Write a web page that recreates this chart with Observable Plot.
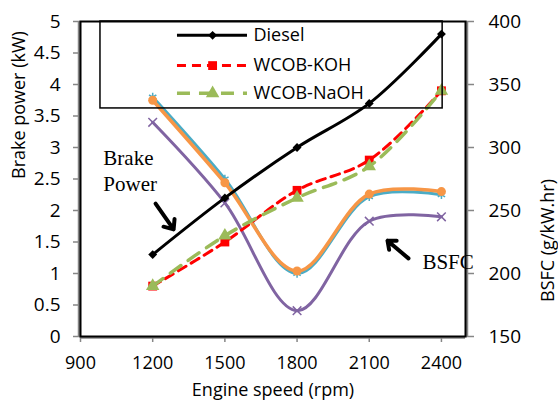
<!DOCTYPE html>
<html>
<head>
<meta charset="utf-8">
<script src="https://cdn.jsdelivr.net/npm/d3@7"></script>
<script src="https://cdn.jsdelivr.net/npm/@observablehq/plot@0.6"></script>
<style>
  html, body { margin: 0; padding: 0; background: #fff; }
  #chart { width: 558px; height: 407px; }
</style>
</head>
<body>
<div id="chart"></div>
<script>
// ---- data ----
const speeds = [1200, 1500, 1800, 2100, 2400];
// Brake power (kW), left axis
const bpDiesel = [1.3, 2.2, 3.0, 3.7, 4.8];
const bpKOH = [0.8, 1.5, 2.32, 2.8, 3.9];
const bpNaOH = [0.8, 1.6, 2.2, 2.7, 3.9];
// BSFC (g/kW.hr), right axis
const bsfcTeal = [340, 275, 200, 261, 262.5];
const bsfcOrange = [337.5, 272, 202, 263, 265];
const bsfcPurple = [320, 256, 170.5, 241.5, 245];

const xTicks = [900, 1200, 1500, 1800, 2100, 2400];
const leftTicks = [0, 0.5, 1, 1.5, 2, 2.5, 3, 3.5, 4, 4.5, 5];
const rightTicks = [150, 200, 250, 300, 350, 400];
const seriesNames = ["Diesel", "WCOB-KOH", "WCOB-NaOH"];

// ---- helpers ----
const bsfcToLeft = v => (v - 150) / 50;
const rows = vals => speeds.map((s, i) => ({x: s, y: vals[i]}));
const rowsB = vals => speeds.map((s, i) => ({x: s, y: bsfcToLeft(vals[i])}));

const cBlack = "#000000", cRed = "#FF0000", cGreen = "#9BBB59",
      cTeal = "#4BACC6", cOrange = "#F79646", cPurple = "#8064A2", cAxis = "#868686";
const sans = "Open Sans", serif = "Liberation Serif";

// legend layout (data coordinates of the chart area)
const legendBox = {x1: 983, x2: 2405, y1: 3.62, y2: 5};
const legendRowY = [4.78, 4.30, 3.86];
const legendLine = {x1: 1303, x2: 1594, xm: 1449, xt: 1619};
const legendStyles = [
  {stroke: cBlack, dash: null, symbol: "diamond2", r: 4, width: 3},
  {stroke: cRed, dash: "9,6", symbol: "square", r: 5, width: 3},
  {stroke: cGreen, dash: "13,9", symbol: "triangle", r: 5, width: 3.5}
];
const legendRows = seriesNames.map((n, i) => ({name: n, y: legendRowY[i], ...legendStyles[i]}));

const annotations = [
  {text: "Brake\nPower", x: 995, y: 3.0},
  {text: "BSFC", x: 2321, y: 1.35}
];
const arrows = [
  {x1: 1212, y1: 2.11, x2: 1287, y2: 1.70},
  {x1: 2263, y1: 1.24, x2: 2176, y2: 1.52}
];

const chart = Plot.plot({
  width: 558,
  height: 407,
  marginLeft: 80,
  marginRight: 93,
  marginTop: 21,
  marginBottom: 71,
  style: {fontFamily: sans, fontSize: "18px", background: "#fff", color: "#000"},
  x: {domain: [900, 2500], axis: null},
  y: {domain: [0, 5], axis: null},
  marks: [
    // axes
    Plot.axisX(xTicks, {anchor: "bottom", tickSize: 6, tickPadding: 14, stroke: cAxis, fill: "black", label: null, tickFormat: d => String(d), strokeWidth: 1.5}),
    Plot.axisY(leftTicks, {anchor: "left", tickSize: 7, tickPadding: 13, stroke: cAxis, fill: "black", label: null, tickFormat: d => String(d), strokeWidth: 1.5, fontSize: 19}),
    Plot.axisY(rightTicks.map(bsfcToLeft), {anchor: "right", tickSize: 8, tickPadding: 15, stroke: cAxis, fill: "black", label: null, tickFormat: d => String(150 + d * 50), strokeWidth: 1.5, fontSize: 19}),
    Plot.ruleX([900], {stroke: cAxis, strokeWidth: 2.5, dx: -1.5}),
    Plot.ruleX([2500], {stroke: cAxis, strokeWidth: 2.5, dx: 1.5}),
    Plot.ruleY([0], {stroke: cAxis, strokeWidth: 2.5, dy: 1}),
    Plot.frame({stroke: "black", strokeWidth: 2}),

    // axis titles
    Plot.text(["Engine speed (rpm)"], {frameAnchor: "bottom", dy: 59, text: d => d, fontSize: 18}),
    Plot.text(["Brake power (kW)"], {frameAnchor: "left", dx: -61, rotate: -90, text: d => d, fontSize: 18}),
    Plot.text(["BSFC (g/kW.hr)"], {frameAnchor: "right", dx: 83, rotate: -90, text: d => d, fontSize: 18}),

    // BSFC curves
    Plot.line(rowsB(bsfcTeal), {x: "x", y: "y", curve: "catmull-rom", stroke: cTeal, strokeWidth: 3}),
    Plot.dot(rowsB(bsfcTeal), {x: "x", y: "y", symbol: "asterisk", r: 4, stroke: cTeal, strokeWidth: 1.5}),
    Plot.line(rowsB(bsfcOrange), {x: "x", y: "y", curve: "catmull-rom", stroke: cOrange, strokeWidth: 3.5}),
    Plot.dot(rowsB(bsfcOrange), {x: "x", y: "y", symbol: "circle", r: 4.5, fill: cOrange}),
    Plot.line(rowsB(bsfcPurple), {x: "x", y: "y", curve: "catmull-rom", stroke: cPurple, strokeWidth: 3}),
    Plot.dot(rowsB(bsfcPurple), {x: "x", y: "y", symbol: "times", r: 4, stroke: cPurple, strokeWidth: 1.5}),

    // Brake power curves
    Plot.line(rows(bpDiesel), {x: "x", y: "y", curve: "catmull-rom", stroke: cBlack, strokeWidth: 3}),
    Plot.dot(rows(bpDiesel), {x: "x", y: "y", symbol: "diamond2", r: 4, fill: cBlack}),
    Plot.line(rows(bpKOH), {x: "x", y: "y", curve: "catmull-rom", stroke: cRed, strokeWidth: 3, strokeDasharray: "9,6"}),
    Plot.dot(rows(bpKOH), {x: "x", y: "y", symbol: "square", r: 5, fill: cRed}),
    Plot.line(rows(bpNaOH), {x: "x", y: "y", curve: "catmull-rom", stroke: cGreen, strokeWidth: 3.5, strokeDasharray: "13,9"}),
    Plot.dot(rows(bpNaOH), {x: "x", y: "y", symbol: "triangle", r: 5, fill: cGreen}),

    // legend
    Plot.rect([legendBox], {x1: "x1", x2: "x2", y1: "y1", y2: "y2", fill: "none", stroke: "black", strokeWidth: 1.5}),
    ...legendRows.map(d => Plot.ruleY([d], {y: "y", x1: legendLine.x1, x2: legendLine.x2, stroke: d.stroke, strokeWidth: d.width, strokeDasharray: d.dash || undefined})),
    ...legendRows.map(d => Plot.dot([d], {x: legendLine.xm, y: "y", symbol: d.symbol, r: d.r, fill: d.stroke})),
    Plot.text(legendRows, {x: legendLine.xt, y: "y", text: "name", textAnchor: "start", lineAnchor: "middle", fontSize: 18}),

    // annotations
    Plot.text(annotations, {x: "x", y: "y", text: "text", textAnchor: "start", lineAnchor: "top", fontFamily: serif, fontSize: 21, lineHeight: 1.2}),
    Plot.arrow(arrows, {x1: "x1", y1: "y1", x2: "x2", y2: "y2", stroke: "black", strokeWidth: 4, headLength: 14, headAngle: 80})
  ]
});
document.getElementById("chart").appendChild(chart);
</script>
</body>
</html>
